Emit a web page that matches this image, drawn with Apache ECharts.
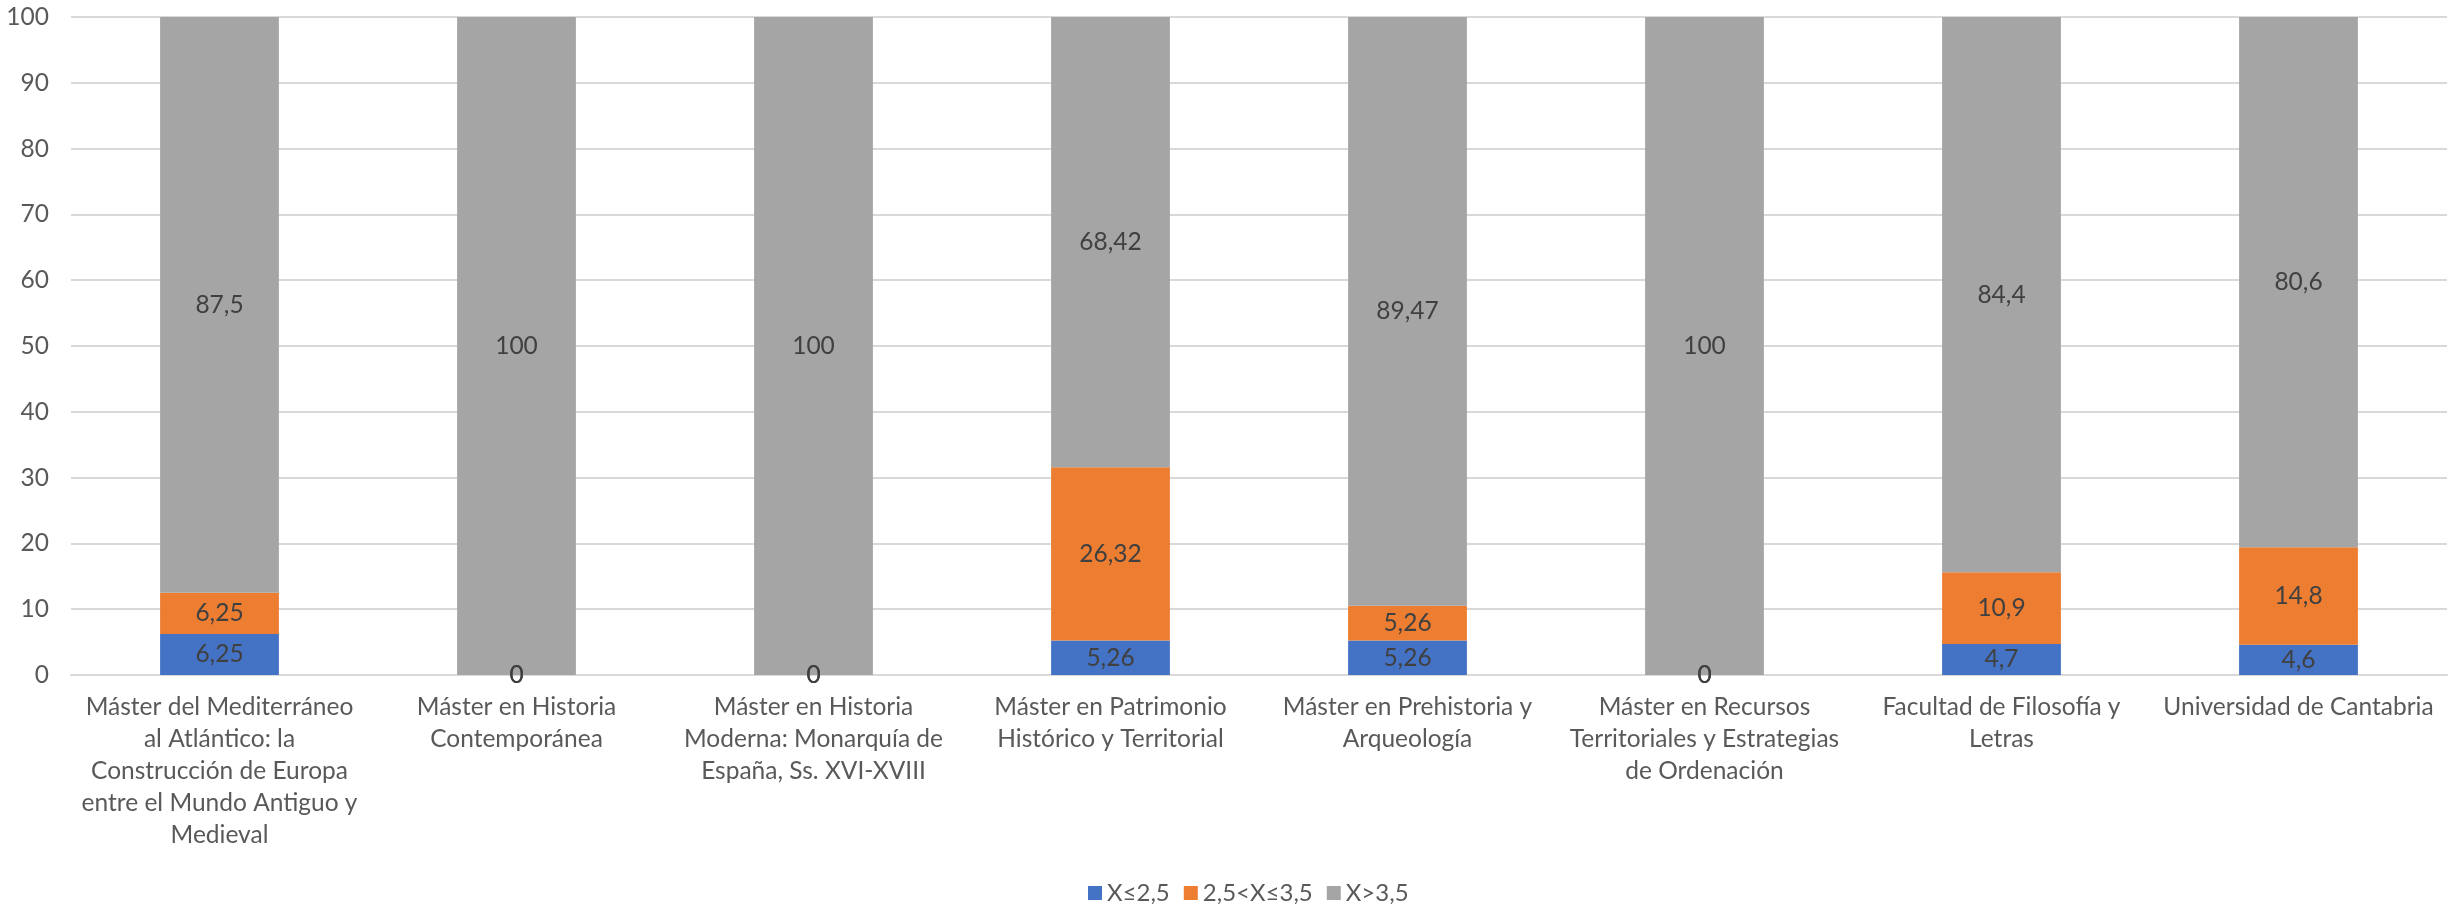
<!DOCTYPE html>
<html><head><meta charset="utf-8">
<script src="https://cdn.jsdelivr.net/npm/echarts@6/dist/echarts.min.js"></script>
<style>html,body{margin:0;padding:0;background:#fff}#c{width:2455px;height:907px}</style>
</head><body><div id="c"></div>
<script>
const categories = [
  "Máster del Mediterráneo\nal Atlántico: la\nConstrucción de Europa\nentre el Mundo Antiguo y\nMedieval",
  "Máster en Historia\nContemporánea",
  "Máster en Historia\nModerna: Monarquía de\nEspaña, Ss. XVI-XVIII",
  "Máster en Patrimonio\nHistórico y Territorial",
  "Máster en Prehistoria y\nArqueología",
  "Máster en Recursos\nTerritoriales y Estrategias\nde Ordenación",
  "Facultad de Filosofía y\nLetras",
  "Universidad de Cantabria"
];
const seriesNames = ["X≤2,5", "2,5<X≤3,5", "X>3,5"];
const low = [6.25, 0, 0, 5.26, 5.26, 0, 4.7, 4.6];
const mid = [6.25, 0, 0, 26.32, 5.26, 0, 10.9, 14.8];
const high = [87.5, 100, 100, 68.42, 89.47, 100, 84.4, 80.6];
const yTicks = [0, 10, 20, 30, 40, 50, 60, 70, 80, 90, 100];

const colors = ["#4472C4", "#ED7D31", "#A5A5A5"];
const font = "Lato, 'Noto Sans', sans-serif";
const fmt = p => String(p.value).replace('.', ',');
const chart = echarts.init(document.getElementById('c'));
const mk = (name, data, i) => ({
  name, type: 'bar', stack: 'total', data, barWidth: '40%',
  itemStyle: { color: colors[i] },
  label: { show: true, position: 'inside', formatter: fmt, color: '#404040', fontSize: 24.5, fontFamily: font },
  emphasis: { disabled: true }
});
chart.setOption({
  animation: false,
  color: colors,
  grid: { left: 71, right: 8, top: 17, bottom: 232 },
  legend: {
    top: 876, left: 1083,
    itemWidth: 14, itemHeight: 14, itemGap: 14,
    icon: 'rect',
    textStyle: { color: '#595959', fontSize: 24, fontFamily: font },
    data: seriesNames
  },
  xAxis: {
    type: 'category', data: categories,
    axisLine: { lineStyle: { color: '#d9d9d9', width: 2 } },
    axisTick: { show: false },
    axisLabel: { color: '#595959', fontSize: 24.5, fontFamily: font, lineHeight: 32, interval: 0, margin: 16 }
  },
  yAxis: {
    type: 'value', min: yTicks[0], max: yTicks[yTicks.length - 1], interval: 10,
    axisLine: { show: false }, axisTick: { show: false },
    splitLine: { lineStyle: { color: '#d9d9d9', width: 2 } },
    axisLabel: { color: '#595959', fontSize: 24.5, fontFamily: font, margin: 22 }
  },
  series: [mk(seriesNames[0], low, 0), mk(seriesNames[1], mid, 1), mk(seriesNames[2], high, 2)]
});
</script></body></html>
